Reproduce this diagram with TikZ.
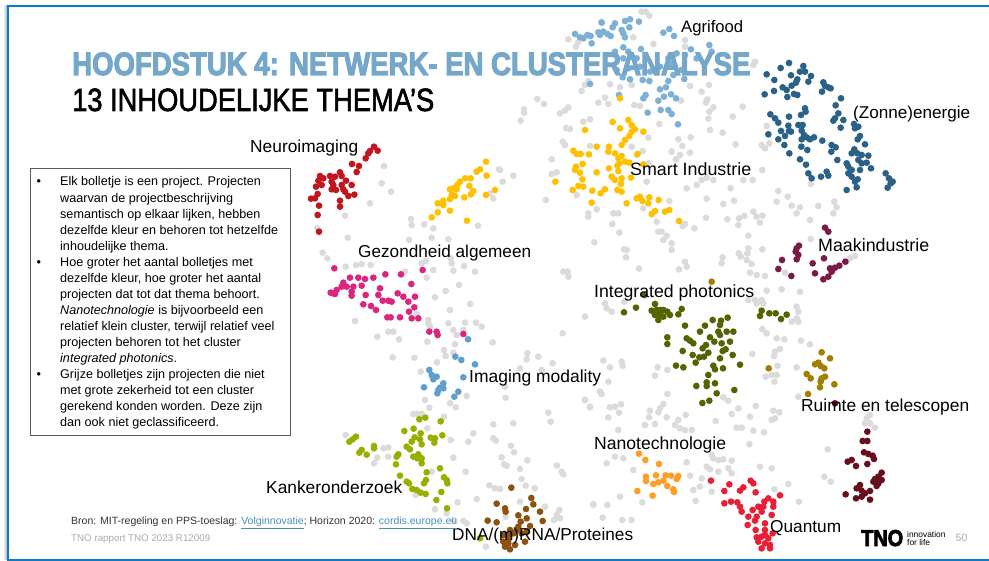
\documentclass[tikz,border=0pt]{standalone}
\usepackage{fontspec}
\usepackage{graphicx}
\setmainfont{Liberation Sans}
\newfontfamily\heavyfont[FakeBold=3.6]{Liberation Sans Bold}
\newfontfamily\medfont[FakeBold=1.9]{Liberation Sans}
\definecolor{cframe}{HTML}{0A7CC8}
\definecolor{ctitle}{HTML}{74A7C9}
\definecolor{cgrey}{HTML}{DBDBDB}
\definecolor{cagri}{HTML}{7DB0D6}
\definecolor{cyel}{HTML}{FFC000}
\definecolor{cdblue}{HTML}{2C6187}
\definecolor{cmaak}{HTML}{7A1A48}
\definecolor{cred}{HTML}{C1161F}
\definecolor{cpink}{HTML}{DA267F}
\definecolor{cimg}{HTML}{5F9FD0}
\definecolor{cgreen}{HTML}{98AF00}
\definecolor{cbrown}{HTML}{8C5310}
\definecolor{colive}{HTML}{556300}
\definecolor{cgold}{HTML}{A37F00}
\definecolor{cdred}{HTML}{690F1C}
\definecolor{corange}{HTML}{FF9E26}
\definecolor{cquant}{HTML}{E91F38}
\definecolor{clink}{HTML}{4A8FB8}
\definecolor{cfoot}{HTML}{ABABAB}
\newcommand\dotset[2]{\foreach \a/\b in {#2}{\fill[#1] (\a,\b) circle[radius=3.35pt];}}
\newcommand\fitw[2]{\resizebox{#1pt}{!}{#2}}
\tikzset{
  zoomorig/.style 2 args={shift={(#1,#2)},x=0.33333pt,y=-0.33333pt},
  lab/.style={anchor=base west,inner sep=0pt,font=\fontsize{17}{20}\selectfont,text=black},
  foot/.style={anchor=base west,inner sep=0pt}
}
\begin{document}
\begin{tikzpicture}[x=1pt,y=-1pt]
\useasboundingbox (0,0) rectangle (989,561);
\fill[white] (0,0) rectangle (989,561);
\shade[left color=white,right color=black!35] (3,6) rectangle (7.5,559);
\fill[cframe] (7.3,5) rectangle (989,6.8);
\fill[cframe] (7.3,5) rectangle (9.3,561);
\fill[cframe] (7.3,559) rectangle (989,561);
% zoom 1 region
\begin{scope}[zoomorig={500}{0}]
\dotset{cgrey}{437/35,425/35,448/47,304/65,205/118,235/127,228/140,400/112,460/132,555/120,555/140,765/185,760/195,265/243,255/255,245/273,330/253,360/262,395/255,570/258,605/275,627/255,622/298,618/308,112/297,132/312,72/328,72/338,62/362,205/322,195/332,180/340,295/308,315/293,325/312,403/315,420/318,543/302,640/322,628/335,625/356,630/390,668/398,698/350,728/320,800/378,445/413,478/372,395/440,270/438,270/358,250/365,198/384,210/387,188/425,195/435,572/412,535/418,547/438,515/455,428/453,410/465,540/465,528/478,570/458,707/433,785/435,795/445,808/430,155/478,170/517,155/522,40/527,8/545,0/510,445/490,440/545,560/565,590/555,605/540,620/533,640/540,730/540,758/540,692/565,787/510,835/573,830/605,863/590,875/617,900/622,890/640,955/618,1003/605,1010/622,1000/640,930/660,932/552,620/596,670/612,702/602,618/653,682/658,717/655,733/648,760/635,770/650,788/647,780/668,715/675,745/707,583/685,555/672,548/678,508/603,470/665,430/625,340/640,355/640,290/628,265/640,265/650,138/600,230/585,337/672,358/698,475/695,485/695,500/708,490/720,515/730,515/750,283/727,372/748,380/750,378/772,417/806,555/785,560/800,537/808,668/772,665/790,716/760,722/770,745/745,742/760,740/780,755/792,787/748,750/818,770/825,795/828,203/815,190/815,205/830,1050/775,1065/768,932/717,855/818,1040/785}
\end{scope}
\begin{scope}[zoomorig={300}{90}]
\dotset{cgrey}{252/228,245/280,273/305,210/340,135/377,52/415,143/443,333/387,335/405,372/403,400/415,395/443,445/448,327/450,68/488,82/505,137/530,168/525,185/522,212/525,597/238,570/310,580/325,534/407,378/513,365/520,452/505,455/520,492/528,525/545,460/542,400/540,315/545,380/563,477/585,437/603,405/622,510/642,450/660,350/672,385/690}
\end{scope}
\begin{scope}[zoomorig={300}{320}]
\dotset{cgrey}{165/3,232/50,265/35,280/35,297/58,382/65,385/10,390/20,445/10,460/30,470/45,490/30,495/8,528/8,545/20,578/67,788/40,465/73,432/90,437/108,460/98,278/112,343/113,411/127,362/155,682/100,680/118,715/110,758/130,660/145,725/150,615/200,617/233,375/240,388/263,450/250,467/262,500/228,340/282,352/282,365/282,432/290,382/325,745/278,752/305,580/313,640/310,855/240,870/262,137/345,520/340,452/360,505/365,580/355,588/362,633/377,642/397,605/412,612/433,620/437,660/447,682/421,771/437,785/455,790/463,250/385,265/382,232/413,222/430,265/410,460/413,497/455,395/455,665/477,677/497,568/496,585/505,600/507,704/505,530/537,473/547,405/568,735/560,660/545,880/553,778/570,780/595,762/600,770/585,347/525,500/610,490/603,460/600,558/680,617/590,440/580}
\end{scope}
\begin{scope}[zoomorig={580}{280}]
\dotset{cgrey}{75/70,80/85,95/95,133/65,15/110,525/60,545/60,530/70,550/70,560/32,605/28,660/35,650/80,655/95,650/115,635/125,655/125,547/147,560/160,590/175,613/178,663/182,690/193,600/207,585/215,582/228,517/222,650/262,593/257,557/290,575/285,590/285,583/305,70/242,125/245,128/258,90/262,233/262,262/270,225/287,85/305,60/335,65/343,262/342,15/360,30/380,90/382,105/380,123/373,250/372,240/385,235/397,210/392,207/412,85/412,117/398,260/412,195/435,225/432,115/450,317/405,295/420,285/435,300/445,315/450,335/450,407/423,455/402,475/385,527/378,510/410,580/392,598/397,585/415,575/420,470/443,485/443,520/452,552/457,508/493,430/352,445/362,655/350,870/405,860/415,855/430,885/443,870/430,743/508,105/530,130/535,80/550,160/570,320/547,395/525,400/535,415/540,430/538,455/542,390/568,380/560,415/575,445/565,455/580,540/560,575/565,330/587,365/595,360/620,340/630,395/635,120/650,187/667,347/663,40/675,82/675,68/713,127/720,155/720,733/590,752/605,625/612,583/628,657/665,505/60}
\end{scope}
\begin{scope}[zoomorig={500}{0}]
\dotset{cagri}{305/68,345/70,338/82,375/63,390/58,417/65,388/82,365/90,370/100,375/112,225/102,240/112,250/115,262/105,272/108,275/130,295/97,310/95,322/102,332/108,300/105,490/98,508/87,522/108,370/142,385/155,423/147,345/155,628/135,635/155,573/148,555/165,590/175,520/165,505/175,410/175,395/170,370/175,510/190,480/200,420/200,545/210,368/232,390/238,428/240,448/243,505/243,520/225,553/237,270/252,480/268,498/262,513/283,528/295,492/290,475/302,437/285,430/295,357/285,482/330,505/330,515/342,443/338,534/373,530/160,385/205,450/215,350/210}
\dotset{cyel}{360/295,385/360,338/366,395/375,360/385,255/390,430/395,405/388,395/395,388/408,375/420,365/435,290/440,327/440,220/452,230/462,242/462,267/463,325/455,345/460,355/475,365/468,413/462,430/493,248/492,228/500,225/510,240/518,290/517,327/505,352/497,358/490,375/485,388/488,355/513,335/530,345/540,365/535,393/533,166/545,247/538,235/558,250/560,277/572,218/570,315/568,302/580,363/552,352/570,365/575,275/608,380/610,410/595,420/590,427/603,448/592,445/610,476/600,465/633,455/642,495/635,508/630,537/663}
\dotset{cdblue}{800/223,842/204,867/189,910/198,900/215,915/215,933/228,823/240,873/226,892/238,888/248,925/245,970/247,985/262,975/258,992/265,966/275,794/283,822/273,848/262,860/270,875/257,862/291,882/282,892/285,1023/295,1007/316,915/325,917/335,903/345,1015/340,1005/355,1000/362,1030/360,1022/383,811/343,825/355,835/368,867/350,895/375,908/375,1062/372,1075/380,1065/385,865/377,867/393,843/393,873/395,855/408,805/403,835/418,853/435,905/392,912/405,905/418,920/412,930/418,942/412,967/422,904/440,922/450,868/460,900/478,918/494,995/435,1007/442,994/455,1080/408,1073/418,1095/433,1063/448,1055/460,1072/460,1085/465,1105/467,1012/480,1075/480,1085/490,1100/488,1040/490,1045/500,1113/505,1055/510,1080/510,1045/520,1055/530,1073/538,1065/545,925/520,935/535,963/530,980/515,985/527,1157/520,1167/535,1178/545,1172/550,1163/563,1040/570,1070/562}
\dotset{cmaak}{975/683,985/695,897/737,890/745,887/755,895/765,890/778,846/780,835/807,874/828,938/790,972/775,1036/785,1018/797,1005/803,990/805,995/815,945/820,985/830,970/838}
\end{scope}
\begin{scope}[zoomorig={300}{90}]
\dotset{cred}{222/170,233/182,210/183,205/190,197/205,156/222,177/228,170/246,120/247,60/258,90/258,105/260,125/258,138/272,55/272,65/285,48/290,95/275,100/285,125/285,155/285,130/298,95/298,108/300,135/305,145/318,163/314,53/312,45/325,33/326,120/332,57/347,120/350,53/375,57/425,70/265}
\dotset{cyel}{558/215,540/238,530/245,560/257,512/265,495/265,480/275,472/285,508/288,520/303,513/313,585/300,558/315,450/298,460/295,470/298,455/315,465/318,450/327,493/322,430/332,413/340,430/345,413/367,395/382,450/362,501/392}
\dotset{cpink}{103/535,368/540,150/563,175/563,195/567,220/563,256/553,303/553,334/582,130/578,125/590,140/590,160/590,185/587,110/600,100/610,92/608,105/612,155/605,155/617,197/615,240/595,235/615,293/610,310/620,345/620,248/632,265/632,275/635,325/635,190/643,213/648,228/660,343/652,327/665,262/682,272/682,300/682,335/685,355/685}
\end{scope}
\begin{scope}[zoomorig={300}{320}]
\dotset{cpink}{388/35,410/35,413/45,490/42}
\dotset{cimg}{504/58,466/110,484/120,525/133,388/150,395/165,410/170,400/178,490/172,372/202,430/190,420/203,430/205,415/210,412/220,475/215,463/230}
\dotset{cgreen}{376/293,358/298,422/304,313/333,341/326,362/340,344/352,335/365,360/358,392/353,405/355,427/346,403/368,365/373,320/380,330/388,168/350,158/358,148/365,222/378,222/385,185/390,178/398,200/404,295/403,290/410,340/410,355/403,352/415,365/415,365/430,288/433,420/445,380/457,300/467,432/472,440/480,442/490,378/480,372/490,320/485,327/490,337/507,350/510,362/518,377/522,424/516,409/540,441/565,540/655}
\dotset{cbrown}{634/503,694/534,590/551,700/553,615/565,617/575,678/567,720/575,655/586,680/595,563/602,590/607,662/605,728/603,655/620,690/618,630/630,650/630,610/645,625/645,640/640,665/640,680/635,610/665,625/660,645/675,615/680,630/688,625/670,675/665}
\end{scope}
\begin{scope}[zoomorig={580}{280}]
\dotset{colive}{193/45,132/97,168/83,225/72,215/92,230/90,240/90,250/90,262/95,270/105,240/105,250/110,235/120,225/105,305/87,295/103,315/137,398/120,443/113,423/122,420/135,375/137,360/155,415/155,440/155,460/155,420/165,320/175,330/182,340/190,390/172,403/185,378/195,368/205,425/190,450/185,262/172,262/192,308/213,338/225,358/232,372/230,385/218,428/213,437/208,458/225,420/235,347/248,288/257,310/262,400/257,405/268,429/265,480/254,385/285,380/307,380/318,405/310,349/318,463/330,410/340,388/362,367/369,545/92,540/108,568/100,587/100,603/117,620/104}
\dotset{cgold}{395/5,725/217,750/235,715/248,705/253,722/258,733/265,566/265,680/282,692/295,735/290,725/295,722/305,763/313,720/322,684/342}
\dotset{cdred}{765/370,862/455,848/483,862/483,852/517,865/522,878/527,882/537,803/545,815/540,828/558,862/552,905/578,895/590,885/597,905/600,895/610,880/605,890/618,840/615,830/625,845/632,870/633,797/643,855/640,828/655,845/650,870/659}
\dotset{corange}{177/521,196/540,237/552,228/586,257/586,273/587,198/590,198/603,295/588,290/597,250/602,235/607,220/612,262/618,280/628,282/636,172/633,218/647}
\dotset{cquant}{393/602,512/602,520/610,448/613,433/633,490/622,480/632,527/637,600/646,565/655,580/665,553/665,433/670,453/665,472/667,480/680,485/695,535/680,518/690,550/680,545/695,580/680,505/710,530/710,575/705,525/722,503/735,555/730,527/750,555/750,578/760,555/765,530/772,545/770,565/775,535/785,555/790,570/795,545/805,570/805}
\end{scope}
% title
\node[foot,text=ctitle] (title) at (72,75) {\resizebox{678pt}{22.5pt}{\heavyfont HOOFDSTUK 4: NETWERK- EN CLUSTERANALYSE}};
\node[foot,text=black] (subtitle) at (72,111) {\resizebox{362pt}{22.5pt}{\medfont 13 INHOUDELIJKE THEMA’S}};
% box
\node[draw=black!65,line width=0.9pt,fill=white,minimum width=260.5pt,minimum height=267pt,inner sep=0pt,anchor=north west] (box) at (29.5,168) {};
\node[anchor=north west,inner sep=0pt,font=\fontsize{12.6}{16.07}\selectfont] (boxtext) at (36.5,174.5) {%
\setlength{\tabcolsep}{0pt}\begin{tabular}{@{}p{23.5pt}l@{}}
•& Elk bolletje is een project. Projecten\\
& waarvan de projectbeschrijving\\
& semantisch op elkaar lijken, hebben\\
& dezelfde kleur en behoren tot hetzelfde\\
& inhoudelijke thema.\\
•& Hoe groter het aantal bolletjes met\\
& dezelfde kleur, hoe groter het aantal\\
& projecten dat tot dat thema behoort.\\
& \textit{Nanotechnologie} is bijvoorbeeld een\\
& relatief klein cluster, terwijl relatief veel\\
& projecten behoren tot het cluster\\
& \textit{integrated photonics}.\\
•& Grijze bolletjes zijn projecten die niet\\
& met grote zekerheid tot een cluster\\
& gerekend konden worden. Deze zijn\\
& dan ook niet geclassificeerd.
\end{tabular}};
% labels
\node[lab] (l1) at (681,32.7) {\fitw{62}{Agrifood}};
\node[lab] (l2) at (853,118.7) {\fitw{117}{(Zonne)energie}};
\node[lab] (l3) at (630,175.7) {\fitw{121}{Smart Industrie}};
\node[lab] (l4) at (818,251.7) {\fitw{111}{Maakindustrie}};
\node[lab] (l5) at (250,152.7) {\fitw{108}{Neuroimaging}};
\node[lab] (l6) at (358,257.7) {\fitw{173}{Gezondheid algemeen}};
\node[lab] (l7) at (594,297.7) {\fitw{160}{Integrated photonics}};
\node[lab] (l8) at (469,382.7) {\fitw{132}{Imaging modality}};
\node[lab] (l9) at (801,412) {\fitw{168}{Ruimte en telescopen}};
\node[lab] (l10) at (594,449.7) {\fitw{132}{Nanotechnologie}};
\node[lab] (l11) at (770,532) {\fitw{71}{Quantum}};
\node[lab] (l12) at (266,493.7) {\fitw{136}{Kankeronderzoek}};
\node[lab] (l13) at (452,540.7) {\fitw{181}{DNA/(m)RNA/Proteines}};
% footer
\node[foot,text=black!80] (bron) at (71,525) {\resizebox{386pt}{!}{\fontsize{11}{13}\selectfont Bron: MIT-regeling en PPS-toeslag: \textcolor{clink}{\underline{Volginnovatie}}; Horizon 2020: \textcolor{clink}{\underline{cordis.europe.eu}}}};
\node[foot,text=cfoot] (rapport) at (71,541.7) {\resizebox{139pt}{!}{\fontsize{10}{12}\selectfont TNO rapport TNO 2023 R12009}};
\node[foot,text=black] (tno) at (861,546) {\resizebox{42pt}{16pt}{\heavyfont TNO}};
\node[foot,text=black,font=\fontsize{8.4}{8.6}\selectfont] (innov) at (907,537) {innovation};
\node[foot,text=black,font=\fontsize{8.4}{8.6}\selectfont] (life) at (907,545.5) {for life};
\node[foot,text=cfoot,font=\fontsize{10.5}{12}\selectfont] (page) at (955.5,541.7) {50};
\end{tikzpicture}
\end{document}
